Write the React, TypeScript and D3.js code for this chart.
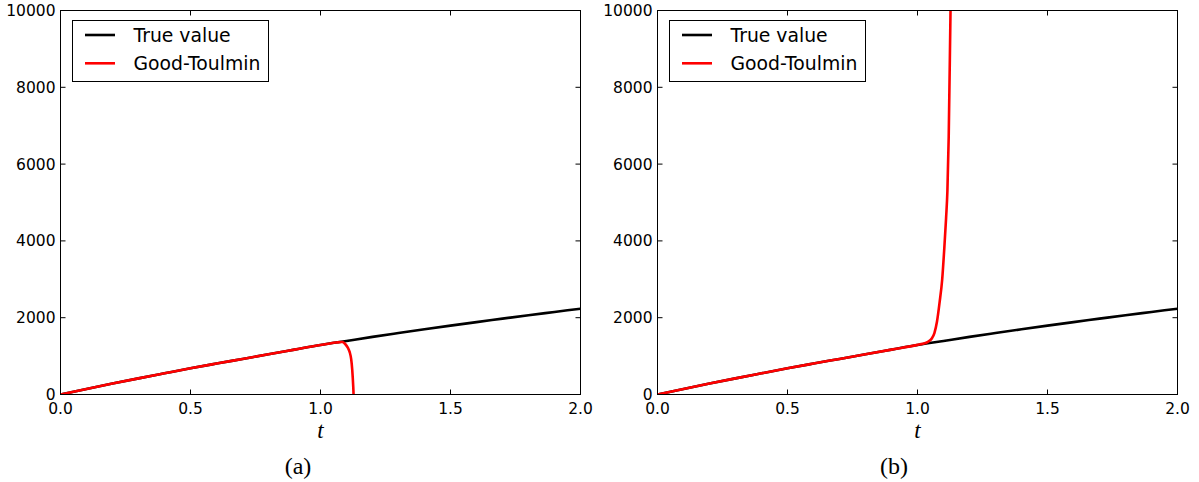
import React from "react";
import * as d3 from "d3";

// ---- data ----
const tTrue = [0, 0.1, 0.2, 0.3, 0.4, 0.5, 0.6, 0.7, 0.8, 0.9, 1.0, 1.1, 1.2, 1.3, 1.4, 1.5, 1.6, 1.7, 1.8, 1.9, 2.0];
const trueValue = [0, 145, 285, 420, 552, 683, 806, 926, 1046, 1168, 1290, 1395, 1500, 1600, 1698, 1794, 1885, 1975, 2065, 2150, 2235];

const tGoodToulminA = [0, 0.1, 0.2, 0.3, 0.4, 0.5, 0.6, 0.7, 0.8, 0.9, 1.0, 1.03, 1.06, 1.08, 1.085, 1.095, 1.105, 1.112, 1.118, 1.122, 1.126, 1.13, 1.14];
const goodToulminA = [0, 145, 285, 420, 552, 683, 806, 926, 1046, 1168, 1290, 1322, 1352, 1368, 1365, 1315, 1220, 1110, 920, 650, 200, -500, -2500];

const tGoodToulminB = [0, 0.1, 0.2, 0.3, 0.4, 0.5, 0.6, 0.7, 0.8, 0.9, 1.0, 1.02, 1.04, 1.055, 1.065, 1.075, 1.085, 1.095, 1.103, 1.11, 1.115, 1.12, 1.127, 1.135];
const goodToulminB = [0, 145, 285, 420, 552, 683, 806, 926, 1046, 1168, 1292, 1322, 1372, 1460, 1600, 1900, 2400, 3000, 3800, 4600, 5300, 6700, 10000, 13500];

const xTicks = [0, 0.5, 1.0, 1.5, 2.0];
const yTicks = [0, 2000, 4000, 6000, 8000, 10000];
const legendLabels = ["True value", "Good-Toulmin"];
const captions = ["(a)", "(b)"];

const W = 1199;
const H = 482;
const TOP = 10.5;
const BOTTOM = 394.5;

type Panel = {
  x0: number;
  x1: number;
  caption: string;
  captionX: number;
  tGT: number[];
  vGT: number[];
};

const panels: Panel[] = [
  { x0: 60.5, x1: 580.5, caption: captions[0], captionX: 298, tGT: tGoodToulminA, vGT: goodToulminA },
  { x0: 657.5, x1: 1177.5, caption: captions[1], captionX: 894, tGT: tGoodToulminB, vGT: goodToulminB },
];

const tickFont = "'DejaVu Sans', sans-serif";

function PanelView({ p, idx }: { p: Panel; idx: number }) {
  const x = d3.scaleLinear().domain([0, 2]).range([p.x0, p.x1]);
  const y = d3.scaleLinear().domain([0, 10000]).range([BOTTOM, TOP]);
  const line = d3
    .line<[number, number]>()
    .x((d) => x(d[0]))
    .y((d) => y(d[1]))
    .curve(d3.curveMonotoneX);
  const trueD = line(tTrue.map((t, i) => [t, trueValue[i]] as [number, number])) || "";
  const gtD = line(p.tGT.map((t, i) => [t, p.vGT[i]] as [number, number])) || "";
  const clipId = `clip-${idx}`;
  const tickLen = 5;
  const lx = p.x0 + 12;
  const ly = TOP + 10;
  return (
    <g>
      <defs>
        <clipPath id={clipId}>
          <rect x={p.x0} y={TOP} width={p.x1 - p.x0} height={BOTTOM - TOP} />
        </clipPath>
      </defs>
      <g clipPath={`url(#${clipId})`}>
        <path d={trueD} fill="none" stroke="#000" strokeWidth={2.6} />
        <path d={gtD} fill="none" stroke="#ff0000" strokeWidth={2.6} />
      </g>
      {/* ticks */}
      {xTicks.map((t) => (
        <g key={`xt${t}`}>
          <line x1={x(t)} x2={x(t)} y1={BOTTOM} y2={BOTTOM - tickLen} stroke="#000" strokeWidth={1} />
          <line x1={x(t)} x2={x(t)} y1={TOP} y2={TOP + tickLen} stroke="#000" strokeWidth={1} />
          <text x={x(t)} y={413.5} textAnchor="middle" fontFamily={tickFont} fontSize={15.5} fill="#000">
            {t.toFixed(1)}
          </text>
        </g>
      ))}
      {yTicks.map((v) => (
        <g key={`yt${v}`}>
          <line x1={p.x0} x2={p.x0 + tickLen} y1={y(v)} y2={y(v)} stroke="#000" strokeWidth={1} />
          <line x1={p.x1} x2={p.x1 - tickLen} y1={y(v)} y2={y(v)} stroke="#000" strokeWidth={1} />
          <text x={p.x0 - 5} y={y(v)} dy="0.36em" textAnchor="end" fontFamily={tickFont} fontSize={15.5} fill="#000">
            {v}
          </text>
        </g>
      ))}
      <rect x={p.x0} y={TOP} width={p.x1 - p.x0} height={BOTTOM - TOP} fill="none" stroke="#000" strokeWidth={1} />
      {/* legend */}
      <g>
        <rect x={lx} y={ly} width={196} height={61} fill="#fff" stroke="#000" strokeWidth={1} />
        {legendLabels.map((lab, i) => (
          <g key={lab}>
            <line
              x1={lx + 12.5}
              x2={lx + 42.5}
              y1={ly + 14.5 + i * 28.3}
              y2={ly + 14.5 + i * 28.3}
              stroke={i === 0 ? "#000" : "#ff0000"}
              strokeWidth={2.6}
            />
            <text x={lx + 61} y={ly + 14.5 + i * 28.3} dy="0.36em" fontFamily={tickFont} fontSize={18.8} fill="#000">
              {lab}
            </text>
          </g>
        ))}
      </g>
      {/* x label */}
      <text
        x={(p.x0 + p.x1) / 2}
        y={438}
        textAnchor="middle"
        fontFamily="'Liberation Serif', serif"
        fontStyle="italic"
        fontSize={23}
        fill="#000"
      >
        t
      </text>
      <text x={p.captionX} y={474} textAnchor="middle" fontFamily="'Liberation Serif', serif" fontSize={24} fill="#000">
        {p.caption}
      </text>
    </g>
  );
}

export default function App() {
  return (
    <svg
      width={W}
      height={H}
      viewBox={`0 0 ${W} ${H}`}
      style={{ position: "absolute", left: 0, top: 0, background: "#fff" }}
    >
      <rect x={0} y={0} width={W} height={H} fill="#fff" />
      {panels.map((p, i) => (
        <PanelView key={i} p={p} idx={i} />
      ))}
    </svg>
  );
}
